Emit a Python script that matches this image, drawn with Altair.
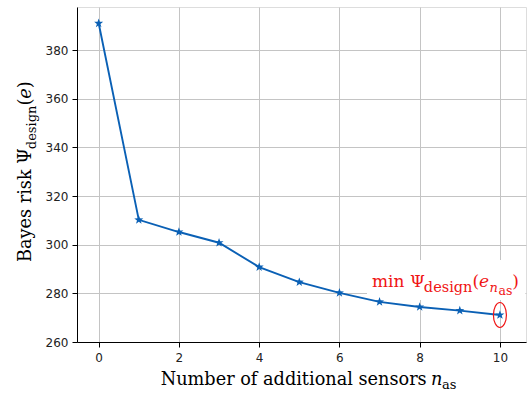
import math
import altair as alt
import pandas as pd

# ---- data ----
sensors = [0, 1, 2, 3, 4, 5, 6, 7, 8, 9, 10]
risk = [391.0, 310.2, 305.2, 300.8, 290.8, 284.6, 280.2, 276.5, 274.4, 272.9, 271.1]
x_ticks = [0, 2, 4, 6, 8, 10]
y_ticks = [260, 280, 300, 320, 340, 360, 380]

df = pd.DataFrame({"n": sensors, "risk": risk})
df_min = df[df["risk"] == df["risk"].min()]
one = pd.DataFrame({"k": [0]})

# ---- layout / style ----
W, H = 449, 335
LEFT, TOP = 77, 7
BLUE = "#0a60b5"
RED = "#f01414"
SERIF = "DejaVu Serif"
SANS = "DejaVu Sans"

# approximate DejaVu Serif advance widths (em) used to chain text pieces
EM = {"m": 0.948, "i": 0.320, "n": 0.644, " ": 0.318, "Ψ": 0.82, "d": 0.640,
      "e": 0.592, "s": 0.513, "g": 0.640, "a": 0.596, "(": 0.390, ")": 0.390,
      "B": 0.733, "y": 0.565, "r": 0.478, "k": 0.610}


def wid(s, size):
    return sum(EM.get(c, 0.6) for c in s) * size


def px(xi):
    return xi - LEFT


def py(yi):
    return yi - TOP


# star marker path (shape, not data)
pts = []
for i in range(10):
    r = 1.0 if i % 2 == 0 else 0.40
    a = math.radians(-90 + 36 * i)
    pts.append(f"{r * math.cos(a):.3f} {r * math.sin(a):.3f}")
STAR = "M " + " L ".join(pts) + " Z"
ELLIPSE = "M -0.52 0 A 0.52 1 0 1 0 0.52 0 A 0.52 1 0 1 0 -0.52 0 Z"

xs = alt.Scale(domain=[-0.54, 10.65], nice=False, zero=False)
ys = alt.Scale(domain=[260, 397.7], nice=False, zero=False)

axis_common = dict(
    title=None, grid=True, gridColor="#c4c4c4", gridWidth=1,
    labelFont=SANS, labelFontSize=12, labelColor="#222222",
    tickColor="#000000", tickSize=5, domainColor="#000000", domainWidth=1,
    labelFlush=False, format="d",
)

x_enc = alt.X("n:Q", scale=xs, axis=alt.Axis(values=x_ticks, labelPadding=5, **axis_common))
y_enc = alt.Y("risk:Q", scale=ys, axis=alt.Axis(values=y_ticks, labelPadding=4, **axis_common))

box = alt.Chart(one).mark_rect(color="white").encode(
    x=alt.value(px(367)), x2=alt.value(W - 0.6),
    y=alt.value(py(260)), y2=alt.value(py(300)),
)

line = alt.Chart(df).mark_line(color=BLUE, strokeWidth=1.9).encode(x=x_enc, y=y_enc)
stars = alt.Chart(df).mark_point(shape=STAR, filled=True, size=90, color=BLUE, opacity=1).encode(
    x=alt.X("n:Q", scale=xs), y=alt.Y("risk:Q", scale=ys)
)
ell = alt.Chart(df_min).mark_point(shape=ELLIPSE, filled=False, size=625, color=RED,
                                   strokeWidth=1.2, opacity=1).encode(
    x=alt.X("n:Q", scale=xs), y=alt.Y("risk:Q", scale=ys)
)


def txt(s, xi, yi, size, align="left", angle=0, italic=False, color="#000000"):
    kw = dict(text=s, align=align, baseline="alphabetic", font=SERIF, fontSize=size,
              fontStyle="italic" if italic else "normal", color=color)
    if angle:
        kw["angle"] = angle
    return alt.Chart(one).mark_text(**kw).encode(x=alt.value(px(xi)), y=alt.value(py(yi)))


texts = []

# x-axis title
texts += [
    txt("Number of additional sensors", 160.7, 385, 17.7),
    txt("n", 431, 385, 17.7, italic=True),
    txt("as", 442, 389, 13),
]

# y-axis title (rotated, reading upward), chained from the bottom
T, S = 17.7, 13
y0 = 262
pieces_y = [("Bayes risk Ψ", T, 31, False), ("design", S, 35.5, False),
            ("(", T, 31, False), ("e", T, 31, True), (")", T, 31, False)]
yy = y0
for s, size, xb, it in pieces_y:
    texts.append(txt(s, xb, yy, size, angle=270, italic=it))
    yy -= wid(s, size)

# annotation, chained left to right
M, SB = 17, 14.5
pieces_a = [("min Ψ", M, 286.5, False), ("design", SB, 292, False), ("(", M, 286.5, False),
            ("e", M, 286.5, True), ("n", 13, 291.5, True), ("as", 12.5, 295, False),
            (")", M, 286.5, False)]
xx = 372.0
for s, size, yb, it in pieces_a:
    texts.append(txt(s, xx, yb, size, italic=it, color=RED))
    xx += wid(s, size) + (0.5 if s in ("e", "n") else 0)

chart = alt.layer(box, line, stars, ell, *texts).properties(
    width=W, height=H,
    padding={"left": LEFT, "top": TOP, "right": 1, "bottom": 54},
    autosize=alt.AutoSizeParams(type="none"),
).configure_view(stroke="#000000", strokeWidth=1).configure(background="white")

chart.save("out.html", embed_options={"renderer": "svg", "actions": False})
